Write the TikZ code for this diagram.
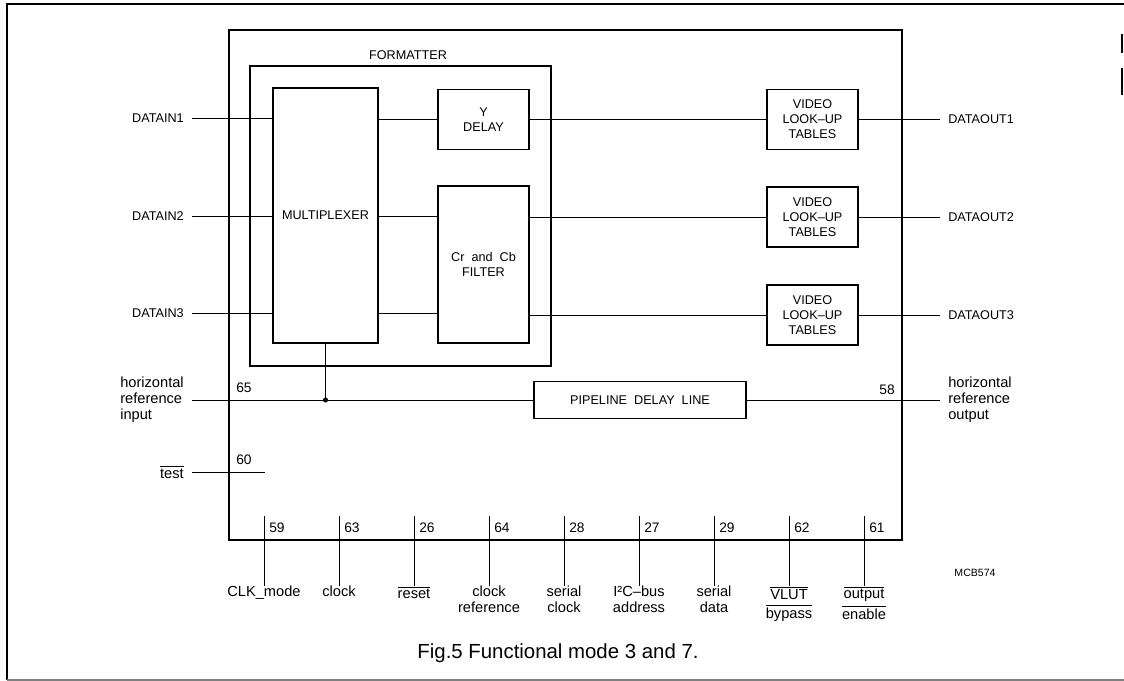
\documentclass[tikz,border=0pt]{standalone}
\usepackage{fontspec}
\setmainfont{Liberation Sans}
\usetikzlibrary{positioning}

\newcommand{\ovl}[1]{$\overline{\mbox{#1}}$}

\begin{document}
\begin{tikzpicture}[
  x=0.025cm, y=-0.025cm,
  font=\fontsize{9}{10.7}\selectfont,
  chip/.style={draw,line width=1.6pt,minimum width=16.825cm,minimum height=12.75cm},
  fmt/.style={draw,line width=1.3pt,minimum width=7.525cm,minimum height=7.5cm},
  blk/.style={draw,line width=1pt,align=center,inner sep=0pt},
  lut/.style={blk,minimum width=2.275cm,minimum height=1.5cm},
  wire/.style={draw,line width=0.7pt},
  pinno/.style={inner sep=0pt,font=\fontsize{9.8}{11}\selectfont},
  sig/.style={inner sep=0.2cm,align=left},
  lc/.style={font=\fontsize{10.4}{11.4}\selectfont},
  botsig/.style={lc,anchor=north,align=center,inner sep=0pt},
  frame/.style={draw,line width=0.8pt}]

% --- page frame (scan edges) ---
\useasboundingbox (0,0) rectangle (1124,681);
\draw[frame] (1124,4) -- (7,4) -- (7,680);
\draw[frame,gray] (7,680) -- (1124,680);
\draw[frame] (1122,34) -- (1122,53);
\draw[frame] (1122,68) -- (1122,95);

% --- chip outline and formatter block ---
\node[chip] (ic) at (565.5,285) {};
\node[fmt] (frm) at (400.5,216) {};
\node (frmlbl) at (408,55) {FORMATTER};

% --- processing blocks ---
\node[blk,minimum width=2.625cm,minimum height=6.375cm] (mux) at (325.5,215.5) {MULTIPLEXER};
\node[blk,minimum width=2.275cm,minimum height=1.5cm] (ydl) at (483.5,119.5) {Y\\DELAY};
\node[blk,minimum width=2.275cm,minimum height=3.925cm] (flt) at (483.5,264.5) {Cr\ \ and\ \ Cb\\FILTER};
\foreach \n/\y in {1/119.5,2/217,3/315}
  \node[lut] (lut\n) at (812.5,\y) {VIDEO\\LOOK--UP\\TABLES};
\node[blk,minimum width=5.3cm,minimum height=0.925cm] (pipe) at (640,400) {PIPELINE\ \ DELAY\ \ LINE};

% --- data inputs and outputs ---
\foreach \n/\y in {1/118,2/216,3/313} {
  \node[sig,anchor=east] (din\n) at (192,\y) {DATAIN\n};
  \draw[wire] (din\n) -- (din\n -| mux.west);
}
\foreach \n/\y in {1/119.5,2/217,3/315} {
  \node[sig,anchor=west] (dout\n) at (940,\y) {DATAOUT\n};
  \draw[wire] (lut\n) -- (dout\n);
}
\draw[wire] (ydl.west -| mux.east) -- (ydl.west);
\draw[wire] (din2 -| mux.east) -- (din2 -| flt.west);
\draw[wire] (din3 -| mux.east) -- (din3 -| flt.west);
\draw[wire] (ydl.east) -- (lut1.west);
\draw[wire] (lut2.west -| flt.east) -- (lut2.west);
\draw[wire] (lut3.west -| flt.east) -- (lut3.west);

% --- horizontal reference through the pipeline ---
\node[sig,lc,anchor=east] (hin) at (192,400) {horizontal\\reference\\input};
\node[sig,lc,anchor=west] (hout) at (940,400) {horizontal\\reference\\output};
\coordinate (tap) at (mux.south |- hin);
\draw[wire] (hin) -- (pipe.west);
\draw[wire] (mux.south) -- (tap);
\fill (tap) circle (1.8pt);
\draw[wire] (pipe.east) -- (pipe.east -| hout.west);
\node[pinno,anchor=west] (p65) at (236,388) {65};
\node[pinno,anchor=east] (p58) at (895,390) {58};

% --- test pin ---
\node[sig,lc,anchor=east] (tst) at (192,472) {\ovl{test}};
\coordinate (tstend) at (265,472);
\draw[wire] (tst) -- (tstend);
\node[pinno,anchor=west] (p60) at (236,460) {60};

% --- bottom pins ---
\foreach \i/\num/\txt in {0/59/CLK\_mode, 1/63/clock, 2/26/\ovl{reset},
    3/64/clock\\reference, 4/28/serial\\clock, 5/27/I²C--bus\\address,
    6/29/serial\\data, 7/62/\ovl{VLUT}\\[2pt]\ovl{bypass}, 8/61/\ovl{output}\\[2pt]\ovl{enable}} {
  \pgfmathsetmacro{\px}{264+75*\i}
  \coordinate (pt\i) at (\px,516);
  \node[botsig] (bs\i) at (\px,586) {\txt};
  \draw[wire] (bs\i) -- (pt\i);
  \node[pinno,anchor=west] (pn\i) at (\px+5,528) {\num};
}

% --- drawing code and caption ---
\node[font=\fontsize{7.5}{8}\selectfont] (code) at (975,573) {MCB574};
\node[font=\fontsize{14.5}{17}\selectfont] (cap) at (558,653) {Fig.5 Functional mode 3 and 7.};

\end{tikzpicture}
\end{document}
